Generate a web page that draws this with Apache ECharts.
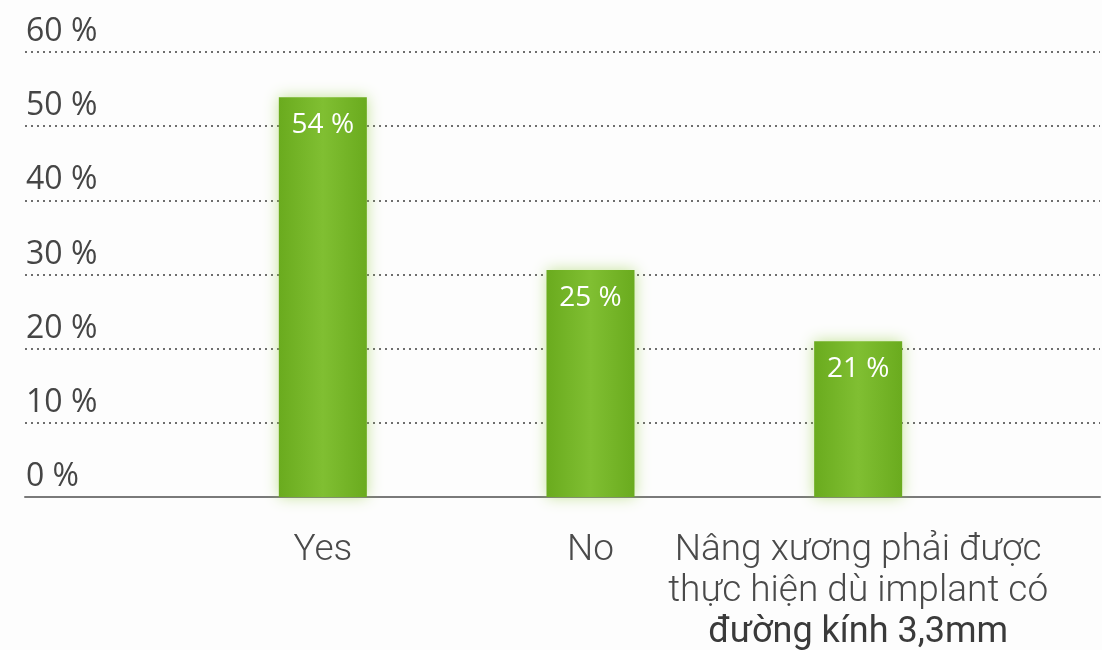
<!DOCTYPE html>
<html><head><meta charset="utf-8">
<script src="https://cdn.jsdelivr.net/npm/echarts@6/dist/echarts.min.js"></script>
<style>html,body{margin:0;padding:0;background:#fdfdfd}#c{width:1102px;height:650px}</style>
</head><body><div id="c"></div>
<script>
const categories = ['Yes', 'No', 'Nâng xương phải được\nthực hiện dù implant có\nđường kính 3,3mm'];
const barValues = [53.9, 30.6, 21.0];
const barLabels = ['54 %', '25 %', '21 %'];
const yTicks = [0, 10, 20, 30, 40, 50, 60];

const chart = echarts.init(document.getElementById('c'));
const gridTop = 52, gridBottom = 153;
chart.setOption({
  backgroundColor: '#fdfdfd',
  animation: false,
  grid: [
    {left: 25, right: 2, top: gridTop, bottom: gridBottom, outerBoundsMode: 'none', containLabel: false},
    {left: 189, right: 110, top: gridTop, bottom: gridBottom, outerBoundsMode: 'none', containLabel: false}
  ],
  xAxis: [
    {type: 'value', gridIndex: 0, min: 0, max: 1, show: true,
     axisLine: {show: true, onZero: false, lineStyle: {color: '#7a7a7a', width: 2}},
     axisTick: {show: false}, axisLabel: {show: false}, splitLine: {show: false}},
    {type: 'category', gridIndex: 1, data: categories,
     axisLine: {show: false}, axisTick: {show: false},
     axisLabel: {
       margin: 33, interval: 0, color: '#4a4a4a', fontFamily: 'Roboto', fontWeight: 300, fontSize: 37, lineHeight: 41,
       formatter: function (v) {
         const parts = v.split('\n');
         if (parts.length < 3) return v;
         return parts.slice(0, 2).join('\n') + '\n{b|' + parts[2] + '}';
       },
       rich: {b: {fontFamily: 'Roboto', fontWeight: 400, fontSize: 36, lineHeight: 41, color: '#3a3a3a'}}
     }}
  ],
  yAxis: [
    {type: 'value', gridIndex: 0, min: 0, max: 60, interval: 10,
     axisLine: {show: false}, axisTick: {show: false},
     axisLabel: {inside: true, margin: 0, verticalAlign: 'bottom', padding: [0, 0, 4, 1], color: '#454545',
       fontFamily: 'Open Sans', fontSize: 32,
       formatter: v => yTicks.includes(v) ? v + ' %' : ''},
     splitLine: {show: true, lineStyle: {type: [2, 4], color: '#6e6e6e', width: 2}}},
    {type: 'value', gridIndex: 1, min: 0, max: 60, interval: 10, show: false}
  ],
  series: [{
    type: 'bar', xAxisIndex: 1, yAxisIndex: 1, data: barValues, barWidth: 88, z: 5,
    itemStyle: {
      color: new echarts.graphic.LinearGradient(0, 0, 1, 0, [
        {offset: 0, color: '#6aab1e'}, {offset: 0.5, color: '#80bf32'}, {offset: 1, color: '#6aab1e'}
      ]),
      shadowColor: 'rgba(150,205,70,0.55)', shadowBlur: 14
    },
    label: {show: true, position: 'insideTop', distance: 14, color: '#fff',
      fontFamily: 'Open Sans', fontSize: 28,
      formatter: p => barLabels[p.dataIndex]}
  }]
});
</script></body></html>
